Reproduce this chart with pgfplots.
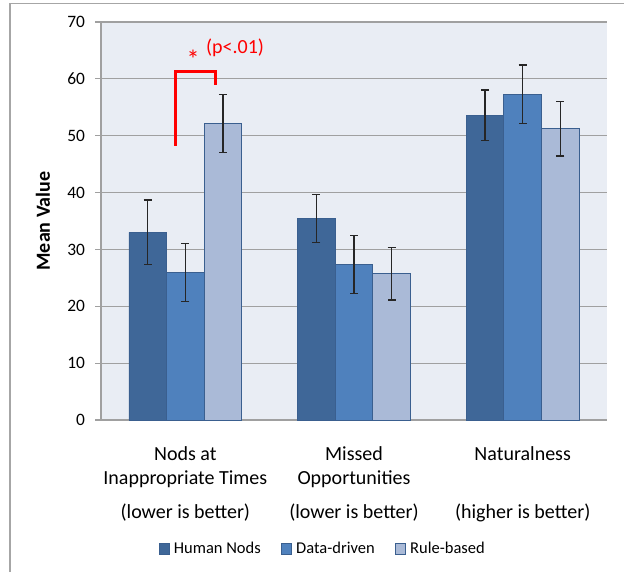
\documentclass[border=0pt]{standalone}
\usepackage{pgfplots}
\pgfplotsset{compat=1.18}
\usepackage{fontspec}
\setmainfont{Carlito}
\definecolor{cHuman}{HTML}{3F6798}
\definecolor{cData}{HTML}{4F81BD}
\definecolor{cRule}{HTML}{AABAD7}
\definecolor{plotbg}{HTML}{E9EDF4}
\definecolor{gridc}{HTML}{A0A0A0}
\definecolor{framec}{HTML}{A6A6A6}
\definecolor{edgec}{HTML}{3A5F8F}
\begin{document}
\begin{tikzpicture}
\path[use as bounding box] (0,0) rectangle (312pt,286pt);
\draw[framec, line width=0.6pt] (5pt,0) -- (5pt,284.35pt) -- (312pt,284.35pt);
\begin{axis}[
  at={(50.5pt,76pt)}, anchor=south west,
  scale only axis, width=253pt, height=199pt,
  ybar=0pt, bar width=18.8pt,
  xmin=-0.5, xmax=2.5, ymin=0, ymax=70,
  xtick={0,1,2},
  xticklabels={{Nods at\\Inappropriate Times\\[5pt](lower is better)},
               {Missed\\Opportunities\\[5pt](lower is better)},
               {Naturalness\\\mbox{}\\[5pt](higher is better)}},
  ytick={0,10,...,70},
  axis background/.style={fill=plotbg},
  axis x line=bottom, axis y line=left,
  axis line style={gridc, line width=0.6pt, -},
  ymajorgrids, grid style={gridc, line width=0.6pt},
  tick align=outside, major tick length=3pt,
  ytick style={gridc, line width=0.6pt},
  xtick style={draw=none},
  /pgf/number format/assume math mode=true,
  yticklabel style={font=\fontsize{8.7}{10}\selectfont, xshift=-1.5pt},
  xticklabel style={font=\fontsize{10}{12}\selectfont, align=center, yshift=-7pt},
  ylabel={Mean Value},
  ylabel style={font=\bfseries\fontsize{10}{12}\selectfont, at={(axis description cs:-0.1146,0.5)}, anchor=center},
  error bars/y dir=both, error bars/y explicit,
  error bars/error bar style={black!85, line width=0.6pt},
  error bars/error mark options={rotate=90, black!85, mark size=2pt, line width=0.6pt},
  legend columns=3,
  legend style={at={(axis description cs:0.44,-0.324)}, anchor=center, draw=none, fill=none,
    font=\fontsize{8.25}{10}\selectfont,
    /tikz/every even column/.append style={column sep=8pt}},
  legend image code/.code={\draw[#1] (0pt,-2.65pt) rectangle (5.3pt,2.65pt);},
]
\addplot[fill=cHuman, draw=edgec, line width=0.4pt] coordinates {(0,33.0) +- (0,5.7) (1,35.4) +- (0,4.2) (2,53.6) +- (0,4.45)};
\addplot[fill=cData, draw=edgec, line width=0.4pt] coordinates {(0,26.0) +- (0,5.1) (1,27.4) +- (0,5.1) (2,57.3) +- (0,5.15)};
\addplot[fill=cRule, draw=edgec, line width=0.4pt] coordinates {(0,52.2) +- (0,5.1) (1,25.7) +- (0,4.6) (2,51.2) +- (0,4.75)};
\legend{Human Nods, Data-driven, Rule-based}
\draw[red, line width=1.3pt] (axis cs:-0.06,48.2) -- (axis cs:-0.06,61.25) -- (axis cs:0.18,61.25) -- (axis cs:0.18,58.9);
\node[red, font=\fontsize{13}{13}\selectfont, inner sep=0pt] at (axis cs:0.046,63.4) {*};
\node[red, anchor=west, inner sep=0pt, font=\fontsize{10}{12}\selectfont] at (axis cs:0.121,65.4) {(p<.01)};
\end{axis}
\end{tikzpicture}
\end{document}
